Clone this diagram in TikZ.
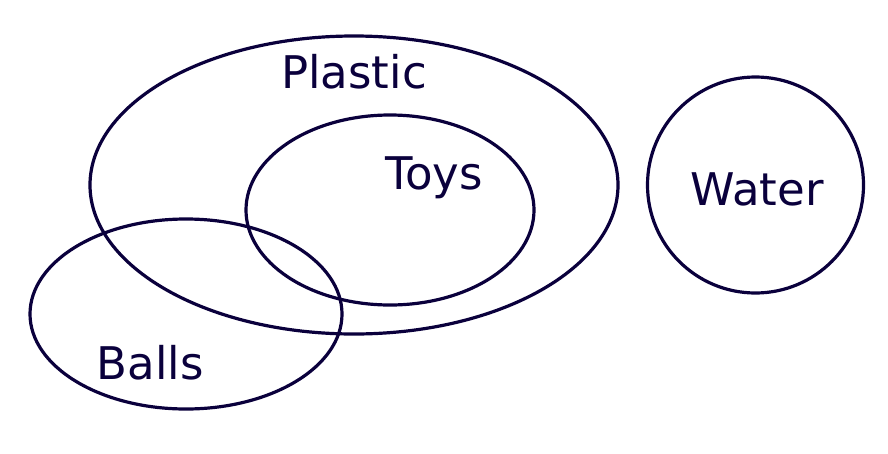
\documentclass[tikz,border=0pt]{standalone}
\usepackage{fontspec}
\setmainfont{DejaVu Sans}
\definecolor{ink}{RGB}{10,0,60}
\begin{document}
\begin{tikzpicture}[x=1pt,y=-1pt]
\tikzset{set/.style={draw=ink,line width=3.2pt},
	lab/.style={text=ink,font=\fontsize{45}{50}\selectfont,inner sep=0pt}}
\useasboundingbox (0,0) rectangle (888,453);
\coordinate (P) at (354,185);
\coordinate (T) at (390,210);
\coordinate (B) at (186,314);
\coordinate (W) at (755.5,185);
\draw [set] (P) ellipse [x radius=264pt, y radius=149pt];
\draw [set] (T) ellipse [x radius=144pt, y radius=95pt];
\draw [set] (B) ellipse [x radius=156pt, y radius=95pt];
\draw [set] (W) circle (108pt);
\node[lab] (plastic) at (354,72) {Plastic};
\node[lab] (toys) at (434,178) {Toys};
\node[lab] (water) at (757,189) {Water};
\node[lab] (balls) at (150,363) {Balls};
\end{tikzpicture}
\end{document}
